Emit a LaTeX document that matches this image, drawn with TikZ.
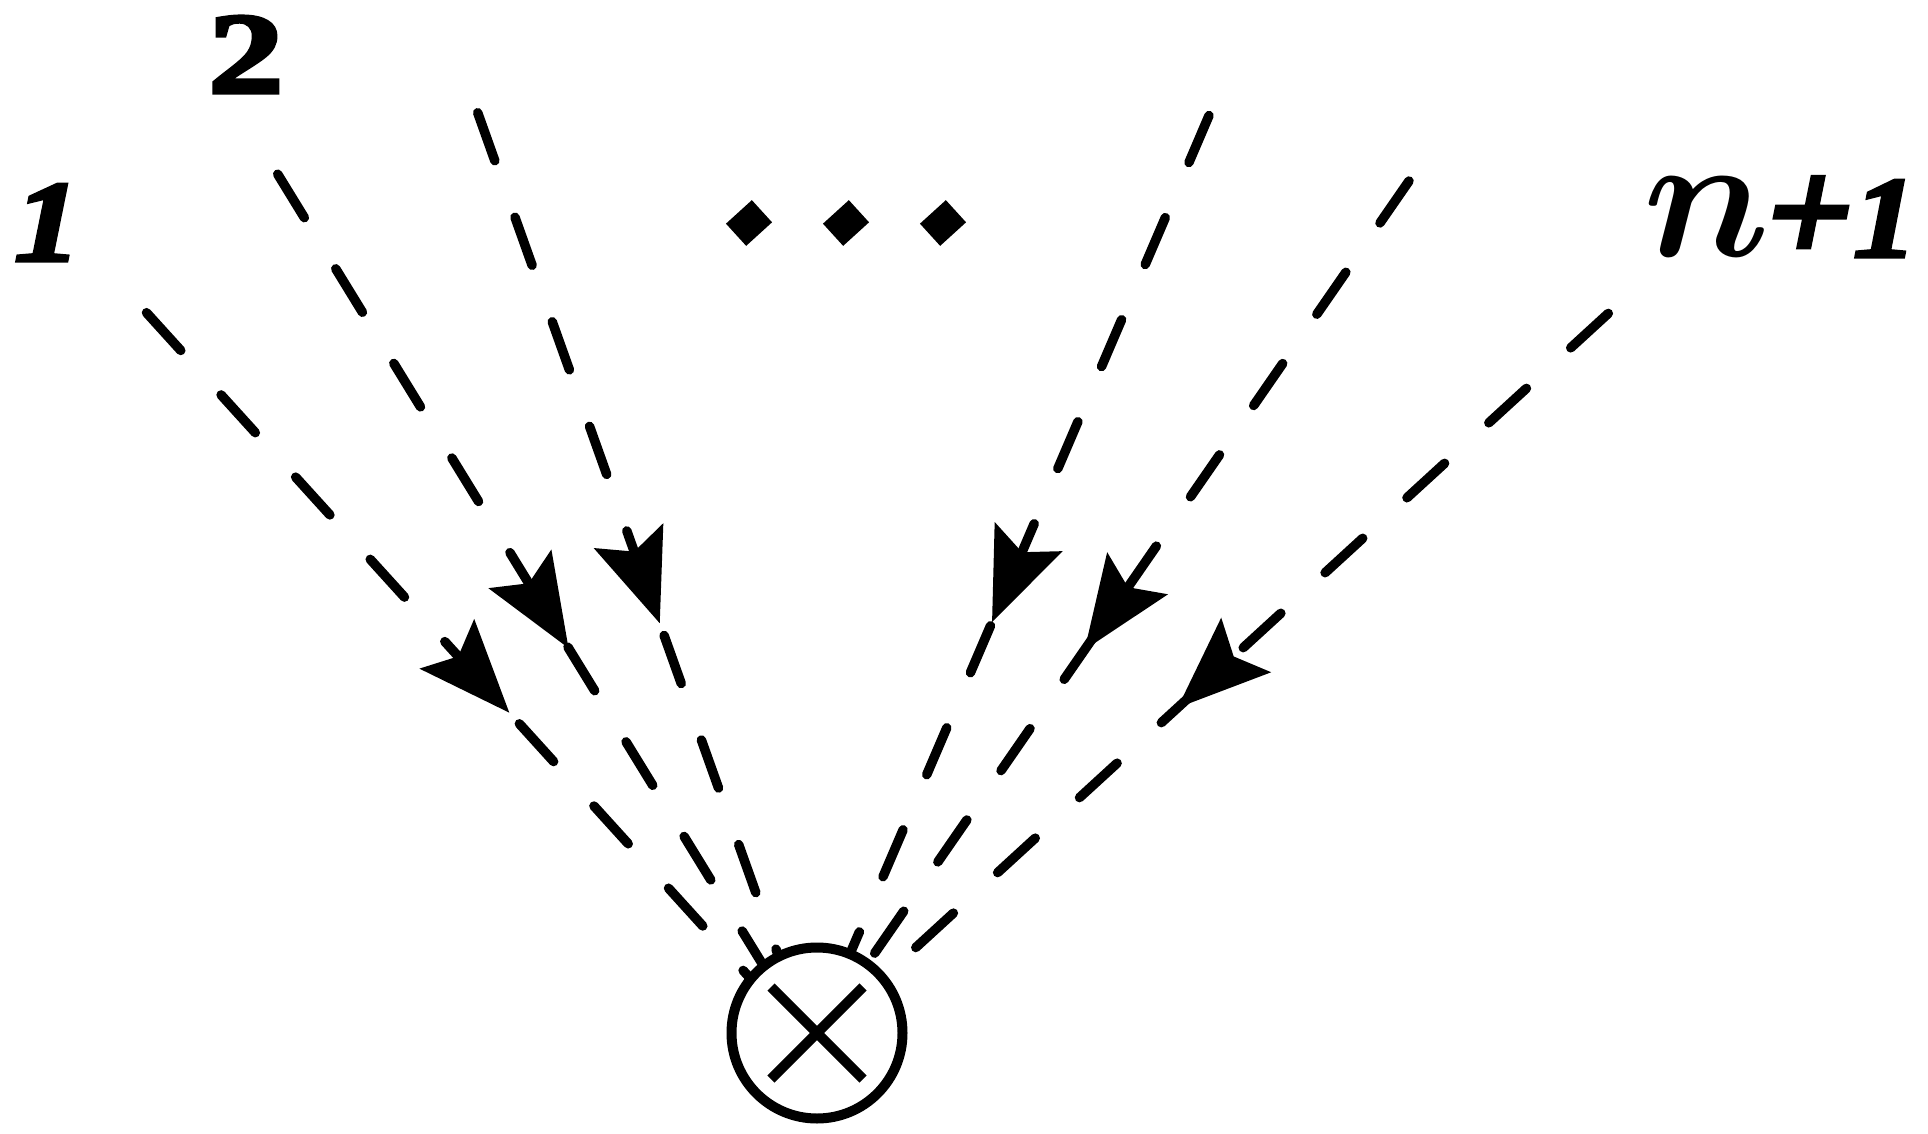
\documentclass[tikz,border=0pt]{standalone}
\usepackage{fontspec}
\usepackage{bm}
\newfontfamily\labfont[BoldFeatures={FakeBold=3}, BoldItalicFeatures={FakeBold=3}]{Liberation Serif}
\newfontfamily\plusfont[BoldFeatures={FakeBold=3,FakeSlant=0.2}]{Liberation Serif}
\usetikzlibrary{decorations.markings}
\begin{document}
\begin{tikzpicture}[x=1pt,y=-1pt,
  prop/.style={line width=9.5pt, dash pattern=on 51pt off 60pt, line cap=round},
  arrowat/.style={postaction={decorate, decoration={markings, mark=at position #1 with {\fill (0pt,0pt) -- (-93pt,37pt) -- (-76pt,0pt) -- (-93pt,-37pt) -- cycle;}}}},
  vertex/.style={circle, draw, line width=10pt, fill=white, minimum size=171pt, inner sep=0pt},
  cross/.style={line width=10pt},
  lbl/.style={inner sep=0pt, anchor=base west, font=\labfont\bfseries},
  dotmark/.style={fill, inner sep=0pt, minimum width=30pt, minimum height=35pt, rotate=-47.7}
]
\useasboundingbox (0,0) rectangle (1928,1134);
% line start points and aim points
\coordinate (s1) at (146.5,312.7);  \coordinate (e1) at (818,1053);
\coordinate (s2) at (277.7,174.2);  \coordinate (e2) at (817,1053);
\coordinate (s3) at (477.7,112.7);  \coordinate (e3) at (813,1053);
\coordinate (s4) at (1209,115.6);   \coordinate (e4) at (807.5,1053);
\coordinate (s5) at (1409,181);     \coordinate (e5) at (805.6,1053);
\coordinate (s6) at (1608.3,313.4); \coordinate (e6) at (800.6,1053);
% dashed propagators with arrows
\draw[prop, arrowat=540pt] (s1) -- (e1);
\draw[prop, arrowat=556pt] (s2) -- (e2);
\draw[prop, arrowat=542pt] (s3) -- (e3);
\draw[prop, arrowat=551pt] (s4) -- (e4);
\draw[prop, arrowat=570pt] (s5) -- (e5);
\draw[prop, arrowat=584pt] (s6) -- (e6);
% vertex
\node[vertex] (v) at (817,1033) {};
\draw[cross] ([shift={(-46,-46)}]v.center) -- ([shift={(46,46)}]v.center);
\draw[cross] ([shift={(-46,46)}]v.center) -- ([shift={(46,-46)}]v.center);
% dots
\node[dotmark] (d1) at (749,223) {};
\node[dotmark] (d2) at (846,223) {};
\node[dotmark] (d3) at (943,223) {};
% labels
\node[lbl] (l1) at (14,261) {\fontsize{116}{116}\selectfont\itshape\scalebox{1.15}[1]{1}};
\node[lbl] (l2) at (208,93) {\fontsize{116}{116}\selectfont\scalebox{1.3}[1]{2}};
\node[lbl] (ln) at (1643,257) {\makebox[115pt][l]{\scalebox{17.8}{$\bm{n}$}}\makebox[95pt][l]{\raisebox{-5pt}{\fontsize{150}{150}\selectfont\plusfont\bfseries +}}{\fontsize{116}{116}\selectfont\itshape\scalebox{1.1}[1]{1}}};
\end{tikzpicture}
\end{document}
